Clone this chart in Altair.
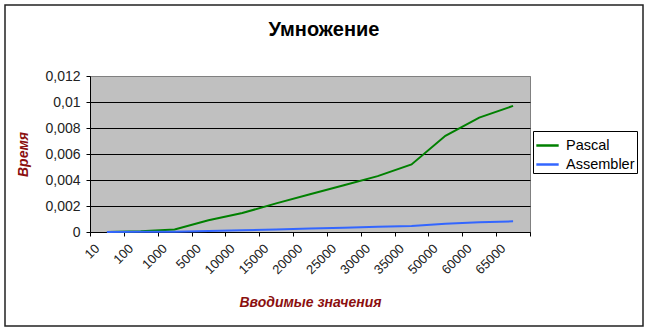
import altair as alt
import pandas as pd

categories = ["10", "100", "1000", "5000", "10000", "15000", "20000",
              "25000", "30000", "35000", "50000", "60000", "65000"]
pascal = [0.0, 0.00005, 0.0002, 0.0009, 0.00146, 0.0022, 0.0029,
          0.0036, 0.0043, 0.0052, 0.0074, 0.0088, 0.0097]
assembler = [0.0, 0.00001, 0.00002, 0.00007, 0.00013, 0.0002, 0.00026,
             0.00033, 0.0004, 0.00047, 0.00063, 0.00075, 0.00082]
series_names = ["Pascal", "Assembler"]
series_colors = ["#008000", "#3366ff"]
y_ticks = [0, 0.002, 0.004, 0.006, 0.008, 0.01, 0.012]

rows = []
for name, vals in zip(series_names, [pascal, assembler]):
    for c, v in zip(categories, vals):
        rows.append({"n": c, "t": v, "series": name})
df = pd.DataFrame(rows)

FONT = "Liberation Sans"
RED = "#8b0f0f"

lines = alt.Chart(df).mark_line(strokeWidth=2).encode(
    x=alt.X("n:O", sort=categories,
            scale=alt.Scale(type="band", paddingInner=0, paddingOuter=0),
            bandPosition=0.5,
            axis=alt.Axis(title="Вводимые значения", tickBand="extent",
                          labelAngle=-45, labelAlign="right",
                          labelBaseline="middle", labelPadding=10,
                          labelOffset=-10, labelFontSize=13, labelFont=FONT,
                          labelColor="#222", tickColor="black", domainColor="black",
                          tickSize=4, titleFont=FONT, titleFontSize=14,
                          titleFontWeight="bold", titleFontStyle="italic",
                          titleColor=RED, titlePadding=19, grid=False)),
    y=alt.Y("t:Q", scale=alt.Scale(domain=[0, 0.012], nice=False),
            axis=alt.Axis(title="Время", values=y_ticks,
                          labelExpr="replace(format(datum.value, '.3~f'), '.', ',')",
                          labelFontSize=14, labelFont=FONT, labelColor="#222",
                          labelPadding=6, tickSize=4, tickColor="black",
                          domainColor="black",
                          gridColor=alt.condition("datum.value >= 0.012",
                                                  alt.value("#808080"), alt.value("black")),
                          gridOpacity=1, gridWidth=1,
                          titleFont=FONT, titleFontSize=14, titleFontWeight="bold",
                          titleFontStyle="italic", titleColor=RED, titlePadding=14)),
    color=alt.Color("series:N", sort=series_names,
                    scale=alt.Scale(domain=series_names, range=series_colors),
                    legend=alt.Legend(title=None, orient="none", legendX=443, legendY=55,
                                      strokeColor="black", fillColor="white",
                                      padding=2, symbolType="stroke",
                                      symbolStrokeWidth=2.5, symbolSize=500,
                                      labelFontSize=14.5, labelFont=FONT,
                                      labelColor="black", labelOffset=6,
                                      rowPadding=0)),
)

border = alt.Chart(alt.Data(values=[{}])).mark_rect(
    fill=None, stroke="#222", strokeWidth=1.5
).encode(x=alt.value(-85), x2=alt.value(553), y=alt.value(-71), y2=alt.value(250))

chart = alt.layer(lines, border).properties(
    width=440, height=156,
    title=alt.TitleParams("Умножение", font=FONT, fontSize=20, fontWeight="bold",
                          anchor="middle", dx=14, baseline="alphabetic",
                          offset=-52, color="black"),
    autosize=alt.AutoSizeParams(type="none"),
    padding={"left": 90, "top": 76, "right": 119, "bottom": 98},
    background="white",
).configure_view(fill="#c0c0c0", stroke="#808080", strokeWidth=1)

chart.save("out.html", embed_options={"renderer": "svg", "actions": False})
